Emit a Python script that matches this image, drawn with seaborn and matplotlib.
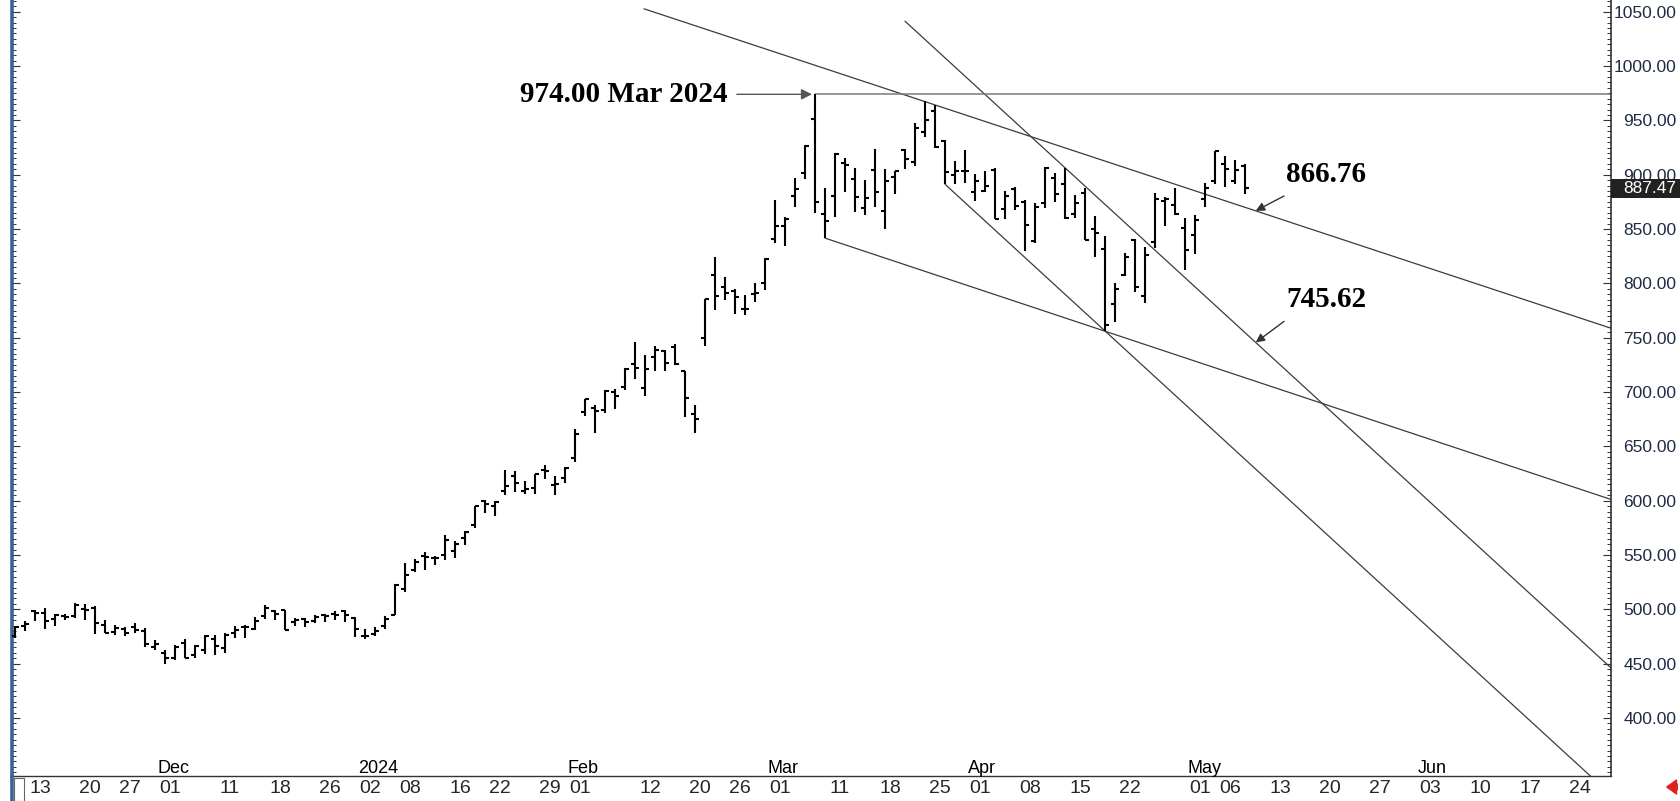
import matplotlib
matplotlib.use("Agg")
import matplotlib.pyplot as plt
import matplotlib.transforms as mtransforms
from matplotlib import font_manager
from matplotlib.patches import Rectangle
from matplotlib.lines import Line2D
from matplotlib.ticker import FixedLocator, MultipleLocator
import numpy as np
import pandas as pd
import seaborn as sns

# Daily OHLC, 10 Nov 2023 - 9 May 2024 (one value per trading day)
opens = [475.5, 485.0, 498.0, 497.0, 491.0, 494.0, 494.0, 500.0, 501.0, 486.0,
         479.0, 482.0, 484.0, 480.0, 465.0, 460.0, 455.0, 469.0, 458.0, 463.0,
         473.0, 464.0, 478.0, 484.0, 482.0, 494.0, 498.0, 499.0, 488.0, 491.0,
         489.0, 495.0, 496.0, 498.0, 492.0, 475.0, 477.0, 485.0, 495.0, 519.0,
         536.0, 549.0, 547.0, 550.0, 554.0, 566.0, 578.0, 600.0, 595.0, 609.0,
         623.0, 609.0, 612.0, 628.0, 614.0, 621.0, 639.0, 682.0, 685.0, 683.0,
         700.0, 705.0, 726.0, 704.0, 732.0, 738.0, 741.0, 719.0, 680.0, 750.0,
         807.9, 797.0, 793.0, 776.0, 790.0, 800.0, 841.0, 852.7, 880.2, 901.6,
         951.4, 864.3, 880.5, 910.5, 895.8, 869.3, 903.9, 867.0, 898.0, 923.0,
         911.4, 939.4, 958.5, 931.1, 900.0, 903.0, 884.5, 884.8, 904.1, 868.6,
         887.0, 874.8, 839.2, 874.2, 897.0, 891.0, 864.3, 883.4, 849.7, 831.5,
         781.0, 807.7, 839.5, 788.7, 838.2, 876.0, 872.4, 850.8, 844.5, 877.9,
         893.9, 910.0, 894.0, 908.0]
highs = [485.0, 489.5, 499.0, 501.0, 496.0, 496.0, 505.5, 505.0, 503.0, 490.0,
         485.5, 484.0, 487.0, 482.5, 472.0, 462.5, 467.0, 473.0, 467.5, 476.5,
         476.0, 478.0, 484.5, 486.0, 493.0, 504.0, 499.5, 499.5, 492.0, 492.0,
         495.0, 495.5, 498.0, 499.5, 493.0, 481.5, 483.5, 493.5, 523.0, 543.0,
         546.0, 553.0, 549.0, 568.0, 563.0, 572.0, 595.0, 601.0, 600.0, 628.0,
         627.0, 618.0, 625.0, 633.0, 623.0, 631.0, 666.0, 694.0, 688.0, 702.0,
         703.0, 721.9, 746.0, 734.0, 742.0, 739.0, 744.0, 719.5, 688.0, 785.8,
         823.9, 806.0, 794.8, 789.0, 799.9, 823.0, 876.9, 861.0, 897.2, 927.7,
         974.0, 888.0, 919.6, 915.0, 906.5, 895.5, 924.0, 905.4, 903.8, 923.7,
         947.8, 967.7, 963.8, 932.4, 913.0, 922.3, 900.9, 903.7, 906.3, 884.8,
         888.3, 876.4, 874.0, 907.4, 901.8, 906.0, 881.2, 887.8, 861.9, 843.2,
         800.7, 827.7, 840.8, 833.2, 883.3, 879.3, 888.2, 860.0, 862.8, 892.8,
         921.6, 917.0, 914.0, 910.0]
lows = [474.0, 480.0, 489.5, 482.0, 484.5, 490.0, 492.0, 490.5, 477.0, 478.0,
        476.5, 475.0, 478.0, 465.0, 462.5, 450.0, 453.0, 455.0, 455.0, 459.0,
        458.0, 460.0, 474.0, 473.5, 481.0, 491.5, 490.5, 481.0, 485.0, 484.0,
        487.0, 488.5, 490.0, 488.5, 474.5, 473.0, 475.0, 482.0, 494.8, 516.0,
        534.0, 536.0, 541.0, 545.0, 547.0, 559.0, 575.0, 589.0, 586.0, 605.0,
        608.0, 606.0, 606.0, 620.0, 605.0, 616.0, 636.0, 678.0, 662.0, 681.0,
        684.0, 702.0, 712.0, 696.0, 719.0, 719.0, 725.0, 677.0, 662.0, 742.0,
        775.7, 785.0, 771.6, 771.0, 783.0, 794.0, 837.0, 834.2, 870.0, 896.0,
        865.1, 841.7, 861.5, 884.5, 866.0, 862.6, 870.0, 850.1, 882.0, 905.2,
        908.3, 935.1, 925.0, 891.2, 891.9, 892.0, 876.2, 884.0, 858.8, 859.3,
        867.3, 830.2, 837.1, 869.3, 875.3, 859.2, 860.6, 839.5, 824.0, 756.1,
        764.0, 807.0, 791.8, 782.2, 833.0, 852.7, 863.0, 812.5, 827.0, 870.0,
        891.3, 889.0, 891.0, 882.0]
closes = [483.35, 486.20, 496.56, 488.88, 494.80, 492.98, 504.09, 499.44, 487.16, 477.76,
          482.42, 478.21, 481.40, 467.70, 467.65, 455.10, 465.66, 455.03, 465.96, 475.06,
          466.27, 476.57, 480.88, 483.50, 488.90, 500.77, 496.04, 481.11, 489.90, 488.30,
          492.79, 494.17, 495.22, 495.22, 481.68, 475.69, 479.98, 490.97, 522.53, 531.40,
          543.50, 548.22, 547.10, 563.82, 560.53, 571.07, 594.91, 596.54, 598.73, 613.62,
          616.17, 610.31, 624.65, 627.74, 615.27, 630.27, 661.60, 693.32, 682.23, 700.99,
          696.41, 721.33, 722.48, 721.28, 739.00, 726.58, 726.13, 694.52, 674.72, 785.38,
          788.17, 790.92, 787.01, 776.63, 791.12, 822.79, 852.37, 859.64, 887.00, 926.69,
          875.28, 857.74, 919.13, 908.88, 879.44, 878.37, 884.55, 893.98, 903.72, 914.35,
          942.89, 950.02, 925.61, 902.50, 903.56, 903.63, 894.52, 889.64, 859.05, 880.08,
          871.33, 853.54, 870.39, 906.16, 881.86, 860.01, 874.15, 840.35, 846.71, 762.00,
          795.18, 824.23, 796.77, 826.32, 877.35, 877.57, 864.02, 830.41, 858.17, 887.89,
          921.40, 905.54, 904.12, 887.47]

# trading calendar (future part keeps every weekday, like the chart does)
holidays = pd.to_datetime(["2023-11-23", "2023-12-25", "2024-01-01",
                           "2024-01-15", "2024-02-19", "2024-03-29"])
past = pd.bdate_range("2023-11-10", "2024-05-09")
past = past[~past.isin(holidays)]
future = pd.bdate_range("2024-05-10", "2024-07-05")
dates = past.append(future)
pos = {d: k for k, d in enumerate(dates)}

tick_dates = pd.to_datetime([
    "2023-11-13", "2023-11-20", "2023-11-27", "2023-12-01", "2023-12-11",
    "2023-12-18", "2023-12-26", "2024-01-02", "2024-01-08", "2024-01-16",
    "2024-01-22", "2024-01-29", "2024-02-01", "2024-02-12", "2024-02-20",
    "2024-02-26", "2024-03-01", "2024-03-11", "2024-03-18", "2024-03-25",
    "2024-04-01", "2024-04-08", "2024-04-15", "2024-04-22", "2024-05-01",
    "2024-05-06", "2024-05-13", "2024-05-20", "2024-05-27", "2024-06-03",
    "2024-06-10", "2024-06-17", "2024-06-24"])
month_dates = pd.to_datetime(["2023-12-01", "2024-01-02", "2024-02-01", "2024-03-01",
                              "2024-04-01", "2024-05-01", "2024-06-03"])
month_labels = ["Dec", "2024", "Feb", "Mar", "Apr", "May", "Jun"]

# trendlines: (bar index, price) at start and end
line_x0 = [62.9, 81.0, 89.0, 93.0]
line_y0 = [1052.7, 841.66, 1041.3, 891.23]
line_x1 = [160.0, 160.0, 160.0, 160.0]
line_y1 = [757.5, 599.9, 442.7, 325.8]
label_x = 124.07
label_vals = [866.76, 745.62]

df = pd.DataFrame({"open": opens, "high": highs, "low": lows, "close": closes},
                  index=past)
df["x"] = [pos[d] for d in df.index]

sns.set_theme(style="white")
names = {f.name for f in font_manager.fontManager.ttflist}
narrow = "Liberation Sans Narrow" if "Liberation Sans Narrow" in names else "Liberation Sans"
plt.rcParams["font.family"] = ["Liberation Sans", "DejaVu Sans"]

fig = plt.figure(figsize=(16.8, 8.01), dpi=100)
fig.patch.set_facecolor("white")
ax = fig.add_axes([12 / 1680, 25 / 801, (1611 - 12) / 1680, 776 / 801])
ax.set_facecolor("white")

# OHLC bars
ax.vlines(df["x"], df["low"], df["high"], color="black", lw=1.5, zorder=3)
ax.hlines(df["open"], df["x"] - 0.38, df["x"], color="black", lw=1.5, zorder=3)
ax.hlines(df["close"], df["x"], df["x"] + 0.38, color="black", lw=1.5, zorder=3)

# trendlines
lines = pd.DataFrame({
    "x": line_x0 + line_x1,
    "y": line_y0 + line_y1,
    "line": list(range(len(line_x0))) * 2,
})
sns.lineplot(data=lines, x="x", y="y", units="line", estimator=None, sort=False,
             color="#3c3c3c", linewidth=0.9, legend=False, ax=ax, zorder=2)
ax.set_xlabel("")
ax.set_ylabel("")

top = df["high"].max()
top_day = df["high"].idxmax()
ax.hlines(top, df.loc[top_day, "x"], 160, color="#7a7a7a", lw=1.1, zorder=2)

ax.set_xlim(-0.3, 159.6)
ax.set_ylim(346.6, 1060.8)

serif = dict(family="Liberation Serif", fontweight="bold", fontsize=21, color="black")
ax.annotate(f"{top:.2f} {top_day.strftime('%b %Y')}",
            xy=(df.loc[top_day, "x"] - 0.3, top), xytext=(71.3, top),
            ha="right", va="center", **serif,
            arrowprops=dict(arrowstyle="-|>", color="#555555", lw=1.0,
                            shrinkA=4, shrinkB=0, mutation_scale=16))
for v, ty, tail in zip(label_vals, [900.0, 785.6], [880.4, 765.0]):
    ax.text(127.1, ty, f"{v:.2f}", ha="left", va="center", **serif)
    ax.annotate("", xy=(label_x, v), xytext=(126.9, tail),
                arrowprops=dict(arrowstyle="-|>", color="#333333", lw=1.0,
                                shrinkA=0, shrinkB=0, mutation_scale=13))

# spines
ax.spines["top"].set_visible(False)
ax.spines["left"].set_color("#3d6294")
ax.spines["left"].set_linewidth(2.6)
ax.spines["right"].set_color("#333333")
ax.spines["right"].set_linewidth(1.2)
ax.spines["bottom"].set_color("#333333")
ax.spines["bottom"].set_linewidth(1.0)

# y axis on the right
ax.yaxis.set_major_locator(FixedLocator(np.arange(400, 1051, 50)))
ax.yaxis.set_minor_locator(MultipleLocator(5))
ax.yaxis.set_major_formatter(lambda v, p: f"{v:.2f}")
ax.tick_params(axis="y", which="both", direction="in", left=True, right=True,
               labelleft=False, labelright=True, color="#333333")
ax.tick_params(axis="y", which="major", length=6, width=0.8, pad=47,
               labelsize=12.5, labelcolor="#1f2a44")
ax.tick_params(axis="y", which="minor", length=3, width=0.7)
for lab in ax.get_yticklabels():
    lab.set_horizontalalignment("right")

# x axis: day labels in a row under the axis, separators as ticks
ax.set_xticks([pos[d] for d in tick_dates], [d.strftime("%d") for d in tick_dates])
ax.tick_params(axis="x", which="major", direction="out", length=18, width=0.8,
               color="black", pad=-15, labelsize=14)
shift = mtransforms.ScaledTranslation(3 / 72, 0, fig.dpi_scale_trans)
for t in ax.xaxis.get_major_ticks():
    t.label1.set_horizontalalignment("left")
    t.label1.set_family(narrow)
    t.label1.set_transform(t.label1.get_transform() + shift)

for d, m in zip(month_dates, month_labels):
    ax.text(pos[d] + 0.3, 0.004, m, transform=ax.get_xaxis_transform(),
            ha="left", va="baseline", fontsize=13, family=narrow, color="black")

# last price box
blend = mtransforms.blended_transform_factory(ax.transAxes, ax.transData)
last = df["close"].iloc[-1]
ax.add_patch(Rectangle((1.0, last - 8.5), 0.05, 17, transform=blend,
                       facecolor="#222222", edgecolor="none", clip_on=False, zorder=6))
ax.annotate(f"{last:.2f}", xy=(1.0, last), xycoords=blend, xytext=(47, 0),
            textcoords="offset points", ha="right", va="center", fontsize=12.5,
            color="white", zorder=7, annotation_clip=False)

# small frame bits below the plot
fig.add_artist(Line2D([12 / 1680, 12 / 1680], [0, 25 / 801], transform=fig.transFigure,
                      color="#3d6294", lw=2.6))
fig.add_artist(Rectangle((14 / 1680, 0), 10 / 1680, 23 / 801, transform=fig.transFigure,
                         fill=False, edgecolor="#666666", lw=0.8))
ax.annotate("", xy=(1664, 14), xycoords="figure pixels", xytext=(1680, 14),
            textcoords="figure pixels",
            arrowprops=dict(arrowstyle="simple,head_width=1.0,head_length=0.7,tail_width=0.4",
                            color="#e3201b", mutation_scale=10))

fig.savefig("out.png", dpi=100)
